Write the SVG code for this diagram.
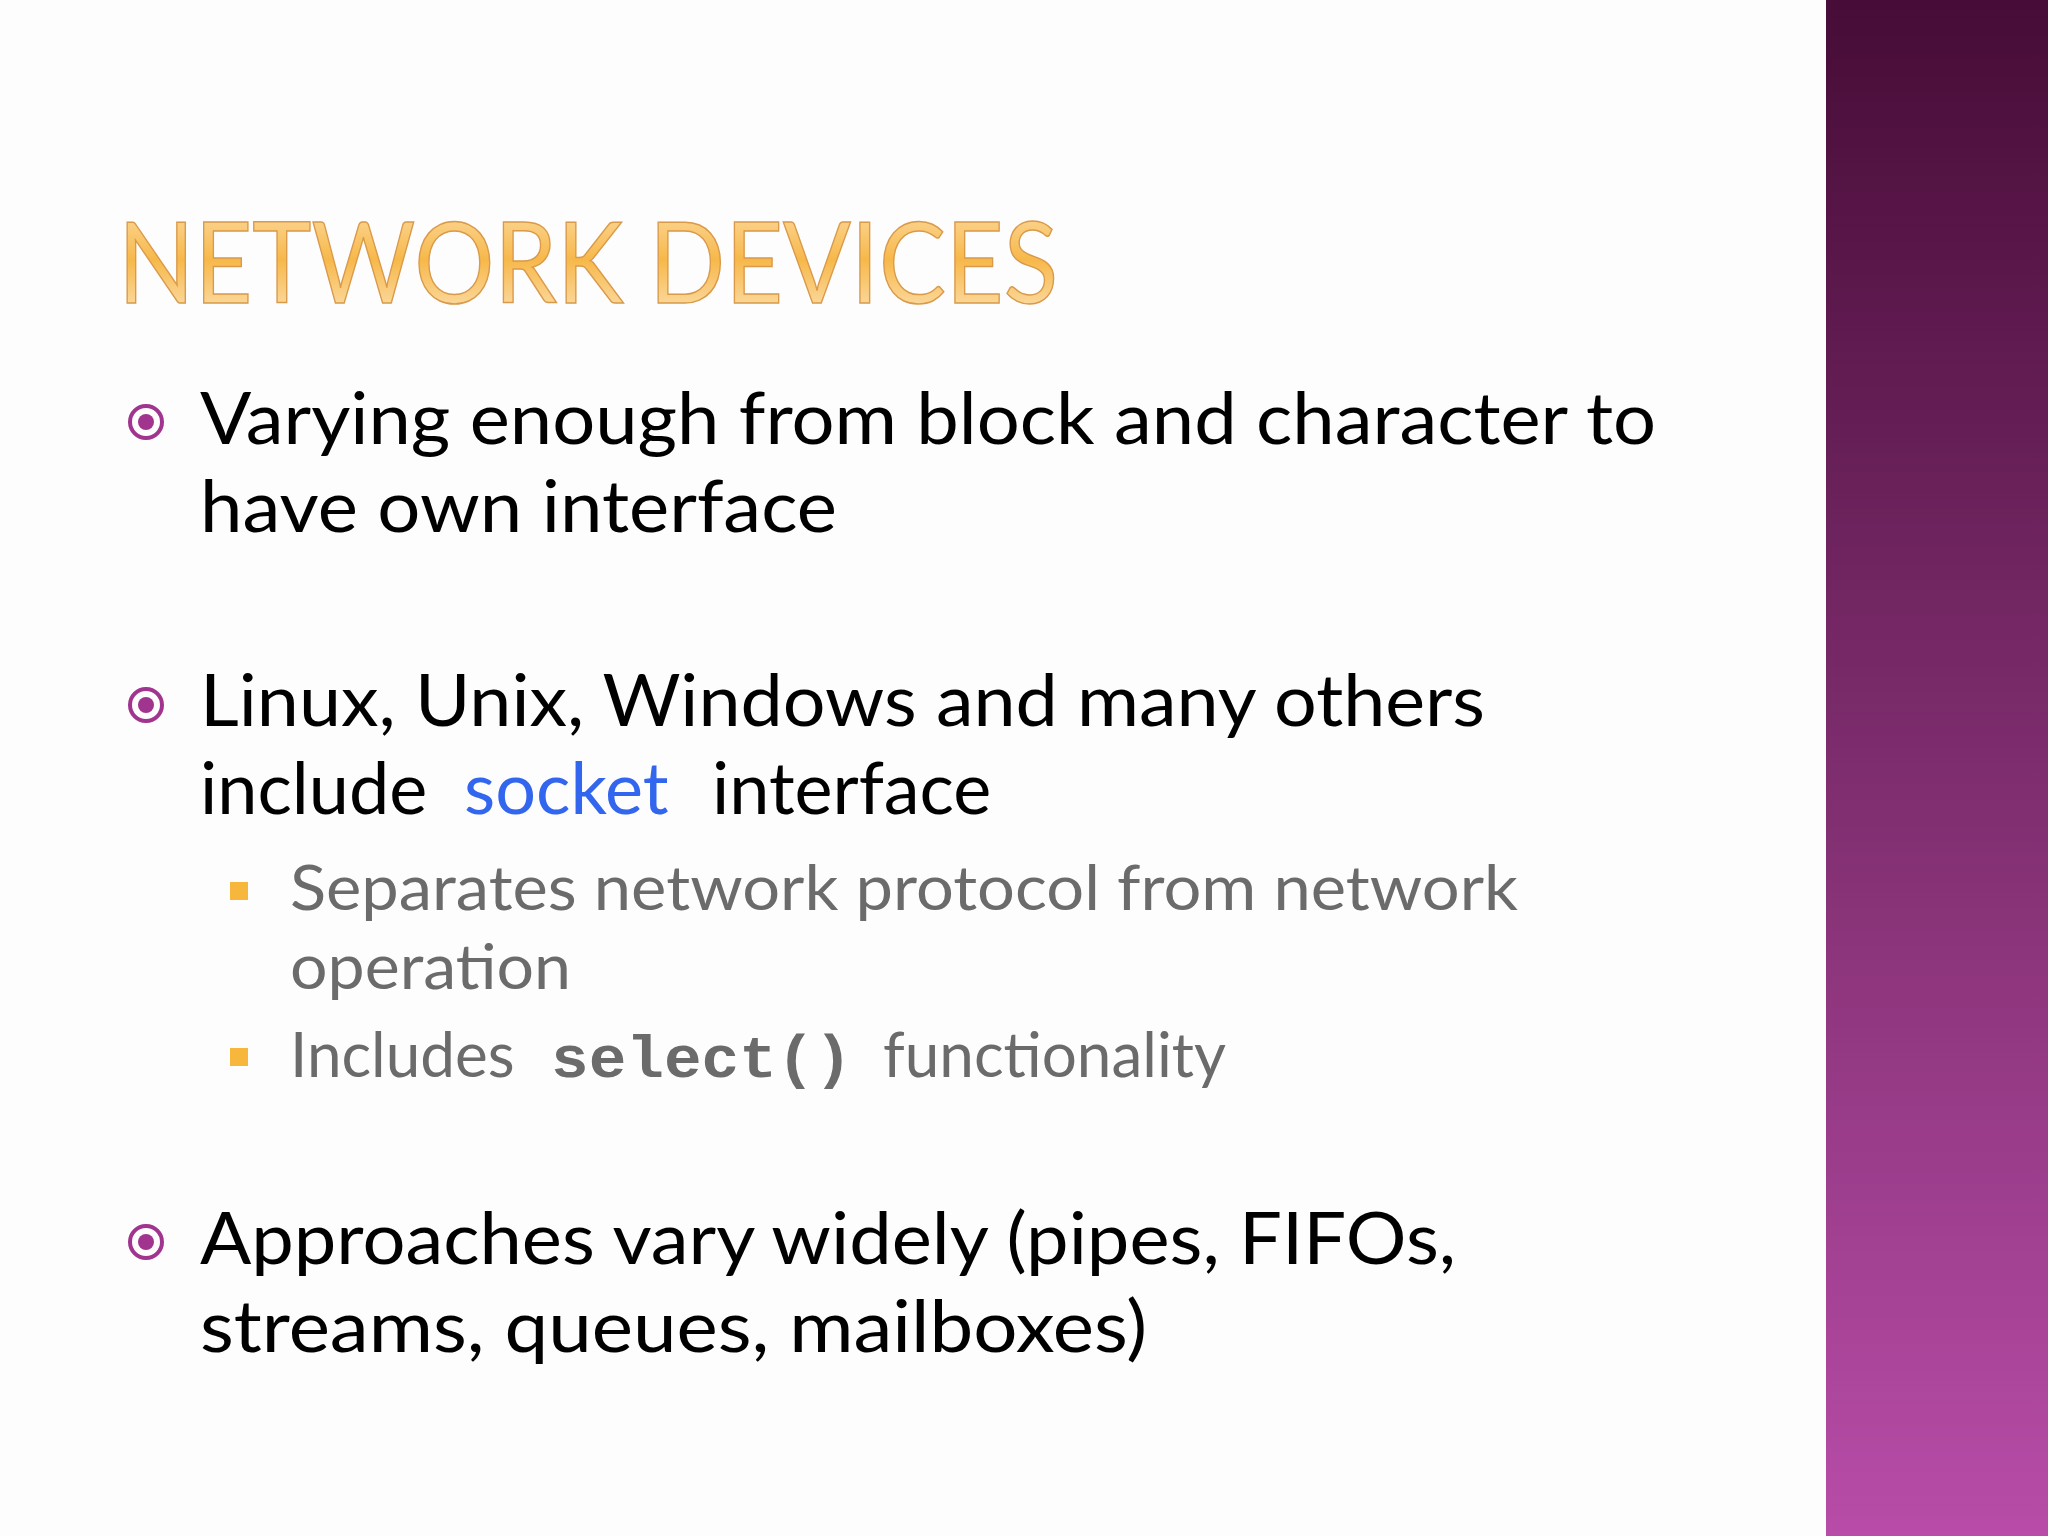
<svg xmlns="http://www.w3.org/2000/svg" width="2048" height="1536" viewBox="0 0 2048 1536">
<defs>
<linearGradient id="bar" x1="0" y1="0" x2="0" y2="1"><stop offset="0" stop-color="#470c37"/><stop offset="0.5" stop-color="#7e2d6e"/><stop offset="1" stop-color="#b84ca8"/></linearGradient>
<linearGradient id="title" x1="0" y1="0" x2="0" y2="1"><stop offset="0" stop-color="#fde3b5"/><stop offset="0.5" stop-color="#f7b84a"/><stop offset="1" stop-color="#fde6c0"/></linearGradient>
<style>
.b{font-family:Lato,"Open Sans",sans-serif;font-size:72px;fill:#000}
.s{font-family:Lato,"Open Sans",sans-serif;font-size:62px;fill:#6b6b6b}
.m{font-family:"Liberation Mono",monospace;font-weight:bold;font-size:60px;fill:#6b6b6b}
</style>
</defs>
<rect width="2048" height="1536" fill="#fdfdfd"/>
<rect x="1826" y="0" width="222" height="1536" fill="url(#bar)"/>
<text x="118" y="303" font-family="Lato,'Open Sans',sans-serif" font-size="112" fill="url(#title)" stroke="#d99a4a" stroke-width="1.5" textLength="940" lengthAdjust="spacingAndGlyphs">NETWORK DEVICES</text>
<g id="bullets" fill="none" stroke="#a0348f" stroke-width="4">
<circle cx="146" cy="422" r="16"/><circle cx="146" cy="705" r="16"/><circle cx="146" cy="1242" r="16"/>
</g>
<g fill="#a0348f"><circle cx="146" cy="422" r="8"/><circle cx="146" cy="705" r="8"/><circle cx="146" cy="1242" r="8"/></g>
<g fill="#f6b73c"><rect x="230" y="882" width="18" height="18"/><rect x="230" y="1048" width="18" height="18"/></g>
<text class="b" x="200" y="444" textLength="1456" lengthAdjust="spacingAndGlyphs">Varying enough from block and character to</text>
<text class="b" x="200" y="532" textLength="637" lengthAdjust="spacingAndGlyphs">have own interface</text>
<text class="b" x="200" y="726" textLength="1285" lengthAdjust="spacingAndGlyphs">Linux, Unix, Windows and many others</text>
<text class="b" y="814"><tspan x="200">include</tspan><tspan x="464" fill="#3366ee">socket</tspan><tspan x="712">interface</tspan></text>
<text class="s" x="290" y="910" textLength="1228" lengthAdjust="spacingAndGlyphs">Separates network protocol from network</text>
<text class="s" x="290" y="989" textLength="281" lengthAdjust="spacingAndGlyphs">operation</text>
<text class="s" x="290" y="1077">Includes</text>
<text class="m" x="551" y="1077" textLength="301" lengthAdjust="spacingAndGlyphs">select()</text>
<text class="s" x="883" y="1077">functionality</text>
<text class="b" x="200" y="1264" textLength="1256" lengthAdjust="spacingAndGlyphs">Approaches vary widely (pipes, FIFOs,</text>
<text class="b" x="200" y="1352" textLength="947" lengthAdjust="spacingAndGlyphs">streams, queues, mailboxes)</text>
</svg>
